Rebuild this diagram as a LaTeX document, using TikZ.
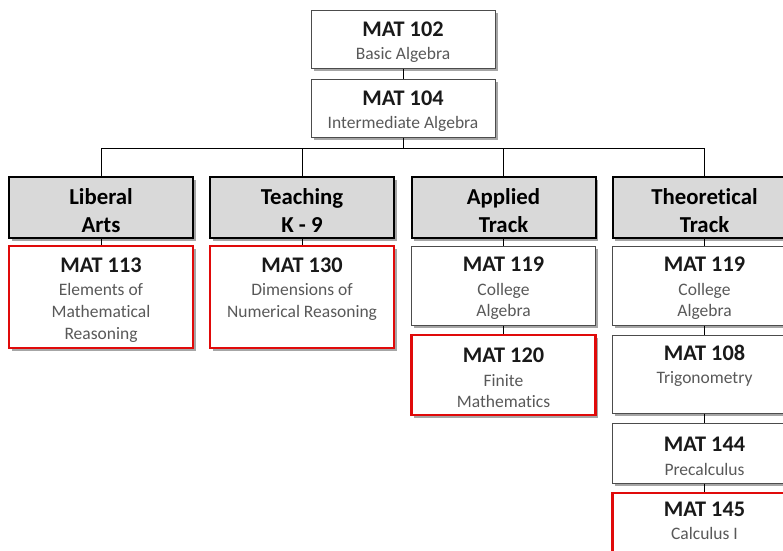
\documentclass[tikz,border=0pt]{standalone}
\usepackage{fontspec}
\setmainfont{Carlito}[Ligatures=NoCommon]
\usetikzlibrary{shadows}

\definecolor{hdgray}{RGB}{217,217,217}
\definecolor{redline}{RGB}{224,10,10}
\newcommand{\codefont}{\fontsize{22.3}{25}\selectfont\bfseries\color{black!90}}
\newcommand{\descfont}{\fontsize{17.5}{21.7}\selectfont}
\newcommand{\hdfont}{\fontsize{22.8}{27.7}\selectfont\bfseries}
% course number, with some room above it
\newcommand{\code}[1]{{\codefont\rule{0pt}{20.5pt}#1}}
\newcommand{\hdtop}{\rule{0pt}{22pt}}
% empty line at the foot of a box
\newcommand{\blank}{\vphantom{Rg}}

\tikzset{
  course/.style={draw=black!70, line width=1pt, fill=white, align=center,
    inner sep=0pt, minimum width=184pt, text=black!65, font=\descfont,
    drop shadow={shadow xshift=2.5pt, shadow yshift=-2.5pt, fill=black, opacity=.35}},
  redcourse/.style={course, draw=redline, line width=2.6pt},
  track/.style={draw=black, line width=2pt, fill=hdgray, align=center,
    inner sep=0pt, minimum width=184pt, minimum height=61pt, font=\hdfont,
    drop shadow={shadow xshift=2.5pt, shadow yshift=-2.5pt, fill=black, opacity=.35}},
  link/.style={draw=black, line width=1pt}
}

\begin{document}
\begin{tikzpicture}[x=1pt,y=-1pt]
   \useasboundingbox (0,0) rectangle (783,550);
   \clip (0,0) rectangle (783,550);

   % common start
   \node[course,minimum height=58pt] (m102) at (403,39)
      {\code{MAT 102}\\[1pt] Basic Algebra};
   \node[course,minimum height=58pt] (m104) at (403,108)
      {\code{MAT 104}\\[1pt] Intermediate Algebra};
   \coordinate (bar) at (0,148);

   % tracks
   \node[track] (lib) at (101,207.5) {\hdtop Liberal\\Arts};
   \node[track] (tch) at (302,207.5) {\hdtop Teaching\\K - 9};
   \node[track] (app) at (503.5,207.5) {\hdtop Applied\\Track};
   \node[track] (thy) at (704.5,207.5) {\hdtop Theoretical\\Track};

   % liberal arts, teaching
   \node[redcourse,minimum height=102pt] (m113) at (101,297)
      {\code{MAT 113}\\[2pt] Elements of\\ Mathematical\\ Reasoning};
   \node[redcourse,minimum height=102pt] (m130) at (302,297)
      {\code{MAT 130}\\[2pt] Dimensions of\\ Numerical Reasoning\\ \blank};

   % applied track
   \node[course,minimum height=79pt] (m119a) at (503.5,285.5)
      {\code{MAT 119}\\[2pt] College\\ Algebra};
   \node[redcourse,minimum height=80pt] (m120) at (503.5,375)
      {\code{MAT 120}\\[2pt] Finite\\ Mathematics};

   % theoretical track
   \node[course,minimum height=79pt] (m119b) at (704.5,285.5)
      {\code{MAT 119}\\[2pt] College\\ Algebra};
   \node[course,minimum height=78pt] (m108) at (704.5,374)
      {\code{MAT 108}\\[2pt] Trigonometry\\ \blank};
   \node[course,minimum height=60pt] (m144) at (704.5,453)
      {\code{MAT 144}\\[2pt] Precalculus};
   \node[redcourse,minimum height=74pt] (m145) at (704.5,530)
      {\code{MAT 145}\\[2pt] Calculus I\\ \blank};

   % connectors
   \draw[link] (m102) -- (m104);
   \draw[link] (m104.south) -- (m104.south |- bar);
   \draw[link] (lib.north |- bar) -- (thy.north |- bar);
   \draw[link] (lib.north |- bar) -- (lib.north);
   \draw[link] (tch.north |- bar) -- (tch.north);
   \draw[link] (app.north |- bar) -- (app.north);
   \draw[link] (thy.north |- bar) -- (thy.north);
   \draw[link] (lib) -- (m113);
   \draw[link] (tch) -- (m130);
   \draw[link] (app) -- (m119a);
   \draw[link] (m119a) -- (m120);
   \draw[link] (thy) -- (m119b);
   \draw[link] (m119b) -- (m108);
   \draw[link] (m108) -- (m144);
   \draw[link] (m144) -- (m145);
\end{tikzpicture}
\end{document}
